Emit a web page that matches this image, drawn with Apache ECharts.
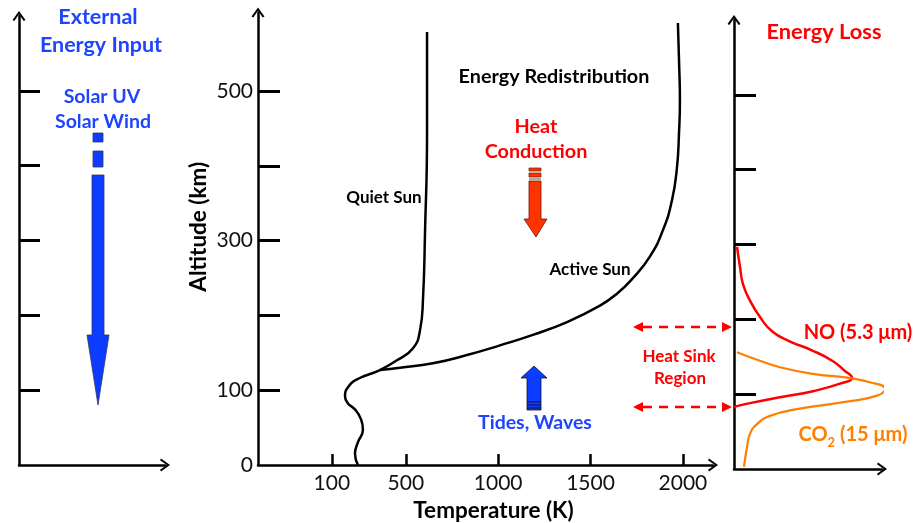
<!DOCTYPE html>
<html><head><meta charset="utf-8">
<script src="https://cdn.jsdelivr.net/npm/echarts@6/dist/echarts.min.js"></script>
<style>html,body{margin:0;padding:0;background:#fff}#c{width:921px;height:523px}</style>
</head><body><div id="c"></div>
<script>
// ---- data ----
const altTicks = [100, 200, 300, 400, 500];
const altLabels = [0, 100, 300, 500];
const tempTicks = [100, 500, 1000, 1500, 2000];
// [temperature K, altitude km]
const quietSun = [[241,0],[225,15],[240,30],[268,47],[258,61],[226,74],[185,83],[171,92],[190,105],[240,115],[360,127],[452,140],[539,156],[577,180],[593,221],[604,310],[615,444],[615,579]];
const activeSun = [[360,127],[468,130],[647,136],[831,147],[1010,160],[1188,174],[1373,191],[1551,213],[1643,229],[1730,250],[1822,279],[1892,314],[1941,354],[1968,398],[1979,444],[1984,488],[1979,541],[1973,591]];
// [relative cooling, altitude km]
const noCooling = [[3,297],[6,270],[9,247],[16,225],[26,203],[38,184],[55,171],[79,158],[99,144],[111,131],[118,122],[106,114],[79,104],[46,96],[16,88],[0,83]];
const co2Cooling = [[3,156],[23,146],[46,136],[79,127],[113,122],[136,116],[151,107],[143,98],[113,90],[63,80],[36,71],[23,60],[16,47],[13,29],[10,3]];

const FONT = 'Lato';
const BLUE = '#1f45fc';
const RED = '#ff0000';
const ORANGE = '#ff7f00';
const chevron = 'path://M0,9 L6.5,0 L13,9 L11.2,10 L6.5,3.2 L1.8,10 Z';
function axisLineStyle() {
  return { show: true, onZero: false, symbol: ['none', chevron], symbolSize: [13, 10], lineStyle: { color: '#000', width: 2.5 } };
}
function txt(text, x, y, size, color, weight) {
  return { type: 'text', x: x, y: y, z: 100, style: { text: text, fill: color, font: (weight || 'bold') + ' ' + size + 'px ' + FONT, align: 'center', verticalAlign: 'middle', textAlign: 'center', textVerticalAlign: 'middle' } };
}
function dashArrow(y, x1, x2) {
  return [
    { type: 'line', shape: { x1: x1 + 10, y1: y, x2: x2 - 10, y2: y }, style: { stroke: RED, lineWidth: 2.5, lineDash: [9, 7] } },
    { type: 'polygon', shape: { points: [[x1, y], [x1 + 10, y - 5], [x1 + 10, y + 5]] }, style: { fill: RED } },
    { type: 'polygon', shape: { points: [[x2, y], [x2 - 10, y - 5], [x2 - 10, y + 5]] }, style: { fill: RED } }
  ];
}
const plain = v => String(v);

const chart = echarts.init(document.getElementById('c'), null, { renderer: 'canvas' });
const option = {
  animation: false,
  backgroundColor: '#fff',
  textStyle: { fontFamily: FONT },
  grid: [
    { left: 19, width: 146, top: 16, height: 449, containLabel: false, outerBoundsMode: 'none' },
    { left: 258, width: 455, top: 12.5, height: 452.5, containLabel: false, outerBoundsMode: 'none' },
    { left: 734, width: 148, top: 20, height: 449, containLabel: false, outerBoundsMode: 'none' }
  ],
  xAxis: [
    { gridIndex: 0, type: 'value', min: 0, max: 1, axisLine: axisLineStyle(), axisTick: { show: false }, axisLabel: { show: false }, splitLine: { show: false } },
    { gridIndex: 1, type: 'value', min: -300, max: 2163,
      axisLine: axisLineStyle(),
      axisTick: { show: true, inside: true, length: 11, customValues: tempTicks, lineStyle: { color: '#000', width: 2.5 } },
      axisLabel: { show: true, customValues: tempTicks, formatter: plain, margin: 8, color: '#111', fontSize: 21, fontFamily: FONT },
      splitLine: { show: false },
      name: 'Temperature (K)', nameLocation: 'middle', nameGap: 29,
      nameTextStyle: { color: '#000', fontSize: 22.5, fontWeight: 'bold', fontFamily: FONT, padding: [0, 0, 0, 16] } },
    { gridIndex: 2, type: 'value', min: 0, max: 148, axisLine: axisLineStyle(), axisTick: { show: false }, axisLabel: { show: false }, splitLine: { show: false } }
  ],
  yAxis: [
    { gridIndex: 0, type: 'value', min: 0, max: 600, axisLine: axisLineStyle(),
      axisTick: { show: true, inside: true, length: 21, customValues: altTicks, lineStyle: { color: '#000', width: 3 } },
      axisLabel: { show: false }, splitLine: { show: false } },
    { gridIndex: 1, type: 'value', min: 0, max: 605, axisLine: axisLineStyle(),
      axisTick: { show: true, inside: true, length: 22, customValues: altTicks, lineStyle: { color: '#000', width: 3 } },
      axisLabel: { show: true, customValues: altLabels, formatter: plain, margin: 5, color: '#111', fontSize: 21, fontFamily: FONT },
      splitLine: { show: false },
      name: 'Altitude (km)', nameLocation: 'middle', nameGap: 48, nameRotate: 90,
      nameTextStyle: { color: '#000', fontSize: 22.5, fontWeight: 'bold', fontFamily: FONT, padding: [0, 0, 0, 24] } },
    { gridIndex: 2, type: 'value', min: 0, max: 600, axisLine: axisLineStyle(),
      axisTick: { show: true, inside: true, length: 22, customValues: altTicks, lineStyle: { color: '#000', width: 3 } },
      axisLabel: { show: false }, splitLine: { show: false } }
  ],
  series: [
    { name: 'Quiet Sun', type: 'line', xAxisIndex: 1, yAxisIndex: 1, data: quietSun, smooth: 0.5, symbol: 'none', lineStyle: { color: '#000', width: 2.5 } },
    { name: 'Active Sun', type: 'line', xAxisIndex: 1, yAxisIndex: 1, data: activeSun, smooth: 0.5, symbol: 'none', lineStyle: { color: '#000', width: 2.5 } },
    { name: 'NO (5.3 μm)', type: 'line', xAxisIndex: 2, yAxisIndex: 2, data: noCooling, smooth: 0.5, symbol: 'none', lineStyle: { color: RED, width: 2.5 } },
    { name: 'CO2 (15 μm)', type: 'line', xAxisIndex: 2, yAxisIndex: 2, data: co2Cooling, smooth: 0.5, symbol: 'none', lineStyle: { color: ORANGE, width: 2.2 } }
  ],
  graphic: [].concat(
    [
      txt('External', 98, 17, 21.5, BLUE),
      txt('Energy Input', 101, 45, 21.5, BLUE),
      txt('Solar UV', 102, 97, 19.5, BLUE),
      txt('Solar Wind', 103, 122, 19.5, BLUE),
      // solar input arrow
      { type: 'rect', shape: { x: 93, y: 133, width: 10, height: 9 }, style: { fill: '#0c3cff', stroke: '#333366', lineWidth: 0.8 } },
      { type: 'rect', shape: { x: 93, y: 151, width: 10, height: 16 }, style: { fill: '#0c3cff', stroke: '#333366', lineWidth: 0.8 } },
      { type: 'polygon', shape: { points: [[92,175],[104,175],[104,335],[109,335],[98,405],[87,335],[92,335]] }, style: { fill: '#0c3cff', stroke: '#333366', lineWidth: 0.8 } },
      txt('Energy Redistribution', 554, 77, 19.8, '#000'),
      txt('Heat', 536, 127, 19.8, RED),
      txt('Conduction', 536, 152, 19.8, RED),
      // heat conduction arrow
      { type: 'rect', shape: { x: 529, y: 168, width: 12, height: 3 }, style: { fill: '#ff3300', stroke: '#6b1a00', lineWidth: 0.7 } },
      { type: 'rect', shape: { x: 529, y: 173, width: 12, height: 4 }, style: { fill: '#ff3300', stroke: '#6b1a00', lineWidth: 0.7 } },
      { type: 'rect', shape: { x: 529, y: 178, width: 12, height: 2 }, style: { fill: '#aaaaaa' } },
      { type: 'polygon', shape: { points: [[529,181],[541,181],[541,219],[547,219],[536,237],[524,219],[529,219]] }, style: { fill: '#ff3300', stroke: '#6b1a00', lineWidth: 0.8 } },
      txt('Quiet Sun', 384, 198, 17, '#000'),
      txt('Active Sun', 590, 270, 17, '#000'),
      // tides arrow
      { type: 'polygon', shape: { points: [[534,366],[547,378],[541,378],[541,402],[527,402],[527,378],[521,378]] }, style: { fill: '#0c3cff', stroke: '#111133', lineWidth: 0.8 } },
      { type: 'rect', shape: { x: 527, y: 402, width: 14, height: 8 }, style: { fill: '#0c3cff', stroke: '#111133', lineWidth: 0.8 } },
      { type: 'line', shape: { x1: 527, y1: 405, x2: 541, y2: 405 }, style: { stroke: '#111133', lineWidth: 1 } },
      { type: 'line', shape: { x1: 527, y1: 408, x2: 541, y2: 408 }, style: { stroke: '#111133', lineWidth: 1 } },
      txt('Tides, Waves', 535, 423, 19.5, BLUE),
      txt('Energy Loss', 824, 32, 21.8, RED),
      txt('Heat Sink', 679, 357, 17, RED),
      txt('Region', 680, 379, 17, RED),
      txt('NO (5.3 μm)', 858, 333, 20, RED),
      { type: 'text', x: 853, y: 435, z: 100, style: {
          text: '{m|CO}{s|2}{m| (15 μm)}', align: 'center', verticalAlign: 'middle', textAlign: 'center', textVerticalAlign: 'middle',
          rich: {
            m: { fontFamily: FONT, fontWeight: 'bold', fontSize: 20, fill: ORANGE, color: ORANGE, lineHeight: 28, verticalAlign: 'middle' },
            s: { fontFamily: FONT, fontWeight: 'bold', fontSize: 13, fill: ORANGE, color: ORANGE, lineHeight: 13, verticalAlign: 'bottom' }
          } } }
    ],
    dashArrow(327, 633, 732),
    dashArrow(407, 633, 732)
  )
};
chart.setOption(option);
</script>
</body></html>
